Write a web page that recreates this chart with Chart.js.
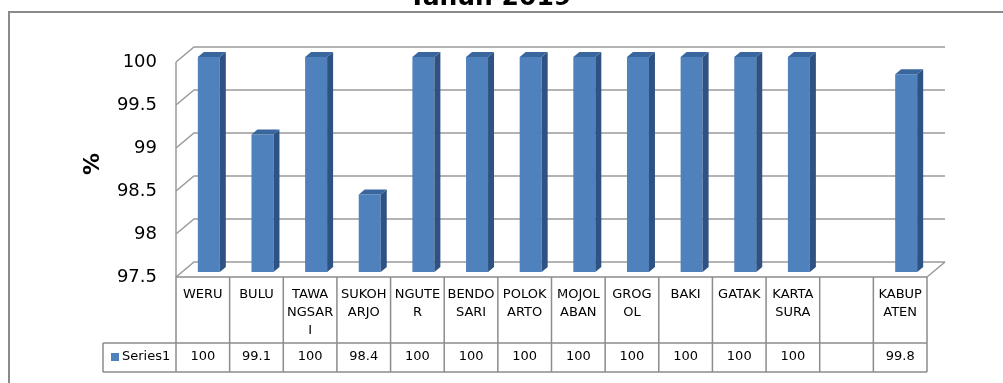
<!DOCTYPE html>
<html>
<head>
<meta charset="utf-8">
<script src="https://cdn.jsdelivr.net/npm/chart.js@4/dist/chart.umd.min.js"></script>
<style>
  html, body { margin: 0; padding: 0; background: #fff; }
  #wrap { width: 1003px; height: 383px; position: relative; }
</style>
</head>
<body>
<div id="wrap"><canvas id="chart-cakupan" width="1003" height="383"></canvas></div>
<script>
// names are broken the way they wrap inside the table cells
const kecamatan = [['WERU'], ['BULU'], ['TAWA', 'NGSAR', 'I'], ['SUKOH', 'ARJO'], ['NGUTE', 'R'],
    ['BENDO', 'SARI'], ['POLOK', 'ARTO'], ['MOJOL', 'ABAN'], ['GROG', 'OL'], ['BAKI'], ['GATAK'],
    ['KARTA', 'SURA'], [''], ['KABUP', 'ATEN']];
const cakupan = [100, 99.1, 100, 98.4, 100, 100, 100, 100, 100, 100, 100, 100, null, 99.8];
const namaSeri = 'Series1';
const judul = 'Tahun 2019';
const labelSumbuY = '%';
const yMin = 97.5;
const yMax = 100;
const yStep = 0.5;

const FONT = '"DejaVu Sans", sans-serif';
const LINE = '#9a9a9a';
const TABLE_LINE = '#8c8c8c';

// depth of the 3d box (back wall offset) and of each bar
const WALL_DX = 18, WALL_DY = -15;
const BAR_DX = 6, BAR_DY = -5;
const SIDE_DX = 6, SIDE_DY = -5;

// rows of the data table under the plot
const TABLE_TOP = 277, TABLE_MID = 343, TABLE_BOTTOM = 372, LEGEND_LEFT = 103;

const box3d = {
    id: 'box3d',
    beforeDraw(chart) {
        const ctx = chart.ctx;
        ctx.save();
        ctx.fillStyle = '#fff';
        ctx.fillRect(0, 0, chart.width, chart.height);
        ctx.strokeStyle = '#8a8a8a';
        ctx.lineWidth = 2;
        ctx.strokeRect(9, 12, chart.width + 20, chart.height + 20);
        ctx.restore();
    },
    beforeDatasetsDraw(chart) {
        const { ctx, chartArea: a, scales: { y } } = chart;
        ctx.save();
        ctx.strokeStyle = LINE;
        ctx.lineWidth = 1.5;
        y.ticks.forEach(t => {
            const py = y.getPixelForValue(t.value);
            ctx.beginPath();
            ctx.moveTo(a.left, py);
            ctx.lineTo(a.left + WALL_DX, py + WALL_DY);
            ctx.lineTo(a.right + WALL_DX, py + WALL_DY);
            ctx.stroke();
        });
        ctx.beginPath();
        ctx.moveTo(a.left, a.top);
        ctx.lineTo(a.left, a.bottom);
        ctx.moveTo(a.right, a.bottom);
        ctx.lineTo(a.right + WALL_DX, a.bottom + WALL_DY);
        ctx.stroke();
        ctx.restore();

        // bars sit a little behind the front plane
        ctx.save();
        ctx.translate(BAR_DX, BAR_DY);
    },
    afterDatasetsDraw(chart) {
        const ctx = chart.ctx;
        const meta = chart.getDatasetMeta(0);
        meta.data.forEach((bar, i) => {
            if (cakupan[i] == null) return;
            const { x, y, base, width } = bar.getProps(['x', 'y', 'base', 'width'], true);
            const l = x - width / 2, r = x + width / 2;
            ctx.fillStyle = '#2e5283';
            ctx.beginPath();
            ctx.moveTo(r, y);
            ctx.lineTo(r + SIDE_DX, y + SIDE_DY);
            ctx.lineTo(r + SIDE_DX, base + SIDE_DY);
            ctx.lineTo(r, base);
            ctx.closePath();
            ctx.fill();
            ctx.fillStyle = '#3a669e';
            ctx.beginPath();
            ctx.moveTo(l, y);
            ctx.lineTo(l + SIDE_DX, y + SIDE_DY);
            ctx.lineTo(r + SIDE_DX, y + SIDE_DY);
            ctx.lineTo(r, y);
            ctx.closePath();
            ctx.fill();
        });
        ctx.restore();
    },
    afterDraw(chart) {
        const { ctx, chartArea: a, scales: { x } } = chart;
        const n = kecamatan.length;
        const colW = (a.right - a.left) / n;

        ctx.save();
        // data table grid
        ctx.strokeStyle = TABLE_LINE;
        ctx.lineWidth = 1.5;
        ctx.beginPath();
        ctx.moveTo(a.left, TABLE_TOP);
        ctx.lineTo(a.right, TABLE_TOP);
        ctx.moveTo(LEGEND_LEFT, TABLE_MID);
        ctx.lineTo(a.right, TABLE_MID);
        ctx.moveTo(LEGEND_LEFT, TABLE_BOTTOM);
        ctx.lineTo(a.right, TABLE_BOTTOM);
        ctx.moveTo(LEGEND_LEFT, TABLE_MID);
        ctx.lineTo(LEGEND_LEFT, TABLE_BOTTOM);
        for (let i = 0; i <= n; i++) {
            const px = a.left + i * colW;
            ctx.moveTo(px, TABLE_TOP);
            ctx.lineTo(px, TABLE_BOTTOM);
        }
        ctx.stroke();

        // category names and values
        ctx.fillStyle = '#000';
        ctx.font = '13px ' + FONT;
        ctx.textAlign = 'center';
        ctx.textBaseline = 'middle';
        kecamatan.forEach((lines, i) => {
            const cx = x.getPixelForValue(i);
            lines.forEach((line, k) => ctx.fillText(line, cx, 295 + k * 18));
            if (cakupan[i] != null) ctx.fillText(String(cakupan[i]), cx, 357);
        });

        // legend key in the table
        ctx.fillStyle = '#4f81bd';
        ctx.fillRect(111, 353, 8, 8);
        ctx.fillStyle = '#000';
        ctx.textAlign = 'left';
        ctx.fillText(namaSeri, 122, 357);

        // axis title
        ctx.save();
        ctx.translate(93, 164);
        ctx.rotate(-Math.PI / 2);
        ctx.font = 'bold 22px ' + FONT;
        ctx.textAlign = 'center';
        ctx.fillText(labelSumbuY, 0, 0);
        ctx.restore();

        // chart title, partly above the canvas
        ctx.font = 'bold 25px ' + FONT;
        ctx.textAlign = 'center';
        ctx.textBaseline = 'alphabetic';
        ctx.fillText(judul, 490, 5);
        ctx.restore();
    }
};

const chartCakupan = new Chart(document.getElementById('chart-cakupan'), {
    type: 'bar',
    data: {
        labels: kecamatan,
        datasets: [{
            label: namaSeri,
            data: cakupan,
            base: yMin,
            backgroundColor: '#4f81bd',
            barPercentage: 0.41,
            categoryPercentage: 1,
            clip: false
        }]
    },
    options: {
        responsive: false,
        animation: false,
        layout: { padding: { left: 0, top: 62, right: 76, bottom: 106 } },
        plugins: {
            legend: { display: false },
            title: { display: false },
            tooltip: { enabled: false }
        },
        scales: {
            x: { display: false },
            y: {
                min: yMin,
                max: yMax,
                grid: { display: false, drawTicks: false },
                border: { display: false },
                ticks: {
                    stepSize: yStep,
                    padding: 19,
                    color: '#000',
                    font: { family: FONT, size: 18 },
                    callback: v => String(v)
                },
                afterFit: s => { s.width = 176; }
            }
        }
    },
    plugins: [box3d]
});
</script>
</body>
</html>
